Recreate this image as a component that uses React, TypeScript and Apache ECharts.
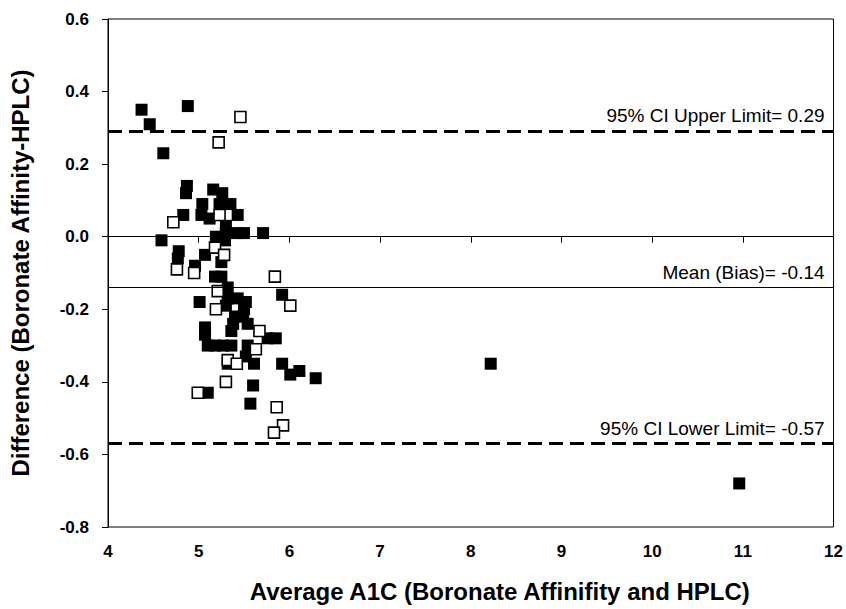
import React, { useEffect, useRef } from "react";
import * as echarts from "echarts";

const xTicks = { min: 4, max: 12, interval: 1 };
const yTicks = { min: -0.8, max: 0.6, interval: 0.2 };

// Filled squares: [average A1C, difference]
const filledPoints: [number, number][] = [
  [4.37, 0.35], [4.46, 0.31], [4.88, 0.36], [4.61, 0.23],
  [4.87, 0.14], [4.86, 0.12], [5.16, 0.13], [5.26, 0.12],
  [5.04, 0.09], [5.23, 0.09], [5.35, 0.09], [4.83, 0.06],
  [5.03, 0.06], [5.43, 0.06], [5.12, 0.05], [4.59, -0.01],
  [4.78, -0.04], [4.77, -0.06], [5.07, -0.05], [5.19, 0.0],
  [5.30, 0.03], [5.29, -0.01], [5.25, -0.07], [5.18, -0.11],
  [5.25, -0.11], [5.41, 0.01], [5.50, 0.01], [5.71, 0.01],
  [5.30, 0.01], [4.96, -0.08], [5.32, -0.14], [5.01, -0.18],
  [5.32, -0.17], [5.43, -0.17], [5.52, -0.18], [5.30, -0.19],
  [5.50, -0.20], [5.92, -0.16], [5.49, -0.22], [5.54, -0.24],
  [5.40, -0.22], [5.38, -0.24], [5.07, -0.25], [5.07, -0.27],
  [5.36, -0.26], [5.76, -0.28], [5.85, -0.28], [5.10, -0.30],
  [5.18, -0.30], [5.27, -0.30], [5.36, -0.30], [5.54, -0.30],
  [5.32, -0.35], [5.52, -0.33], [5.61, -0.35], [5.92, -0.35],
  [6.01, -0.38], [6.11, -0.37], [6.29, -0.39], [5.60, -0.41],
  [5.10, -0.43], [5.57, -0.46], [8.22, -0.35], [10.96, -0.68],
];

// Open squares
const openPoints: [number, number][] = [
  [5.46, 0.33], [5.22, 0.26], [4.72, 0.04], [5.23, 0.06],
  [5.18, -0.03], [5.28, -0.05], [4.76, -0.09], [4.95, -0.10],
  [5.84, -0.11], [5.21, -0.15], [5.19, -0.20], [6.01, -0.19],
  [5.67, -0.26], [5.63, -0.31], [5.32, -0.34], [5.42, -0.35],
  [5.30, -0.40], [4.99, -0.43], [5.86, -0.47], [5.93, -0.52],
  [5.83, -0.54],
];

const upperLimit = 0.29;
const meanBias = -0.14;
const lowerLimit = -0.57;

const refLines = [
  { value: upperLimit, label: "95% CI Upper Limit= 0.29", dashed: true },
  { value: meanBias, label: "Mean (Bias)= -0.14", dashed: false },
  { value: lowerLimit, label: "95% CI Lower Limit= -0.57", dashed: true },
];

const xName = "Average A1C (Boronate Affinifity and HPLC)";
const yName = "Difference (Boronate Affinity-HPLC)";

const FONT = "'Liberation Sans', Arial, sans-serif";

export default function App() {
  const ref = useRef<HTMLDivElement>(null);

  useEffect(() => {
    if (!ref.current) return;
    const chart = echarts.init(ref.current, null, { renderer: "svg" });
    chart.setOption({
      animation: false,
      backgroundColor: "#ffffff",
      textStyle: { fontFamily: FONT },
      grid: {
        left: 106,
        right: 11,
        top: 19,
        bottom: 82,
        show: true,
        borderColor: "#000",
        borderWidth: 1,
        backgroundColor: "transparent",
      },
      xAxis: {
        type: "value",
        min: xTicks.min,
        max: xTicks.max,
        interval: xTicks.interval,
        name: xName,
        nameLocation: "middle",
        nameGap: 52,
        nameTextStyle: {
          fontFamily: FONT,
          fontWeight: "bold",
          fontSize: 24,
          color: "#000",
          padding: [0, 0, 0, 58],
        },
        axisLine: { show: true, lineStyle: { color: "#000", width: 1 } },
        axisTick: { show: true, inside: false, length: 6, lineStyle: { color: "#000" } },
        axisLabel: { fontFamily: FONT, fontWeight: "bold", fontSize: 17, color: "#000", margin: 16 },
        splitLine: { show: false },
      },
      yAxis: {
        type: "value",
        min: yTicks.min,
        max: yTicks.max,
        interval: yTicks.interval,
        name: yName,
        nameLocation: "middle",
        nameGap: 76,
        nameRotate: 90,
        nameTextStyle: { fontFamily: FONT, fontWeight: "bold", fontSize: 24, color: "#000" },
        axisLine: { show: true, lineStyle: { color: "#000", width: 1 } },
        axisTick: { show: true, inside: false, length: 6, lineStyle: { color: "#000" } },
        axisLabel: {
          fontFamily: FONT,
          fontWeight: "bold",
          fontSize: 17,
          color: "#000",
          margin: 19,
          formatter: (v: number) => (Math.abs(v) < 1e-9 ? "0.0" : v.toFixed(1)),
        },
        splitLine: { show: false },
      },
      series: [
        {
          type: "scatter",
          name: "filled",
          symbol: "rect",
          symbolSize: 12,
          itemStyle: { color: "#000", borderColor: "#000", borderWidth: 0, opacity: 1 },
          data: filledPoints,
          z: 2,
          markLine: {
            silent: true,
            symbol: "none",
            animation: false,
            data: refLines.map((r) => ({
              yAxis: r.value,
              lineStyle: {
                color: "#000",
                width: r.dashed ? 3 : 1,
                type: r.dashed ? [14, 7] : "solid",
                opacity: 1,
              },
              label: {
                show: true,
                formatter: r.label,
                position: "insideEndTop",
                distance: [9, 6],
                fontFamily: FONT,
                fontSize: 19,
                color: "#000",
              },
            })),
          },
        },
        {
          type: "scatter",
          name: "open",
          symbol: "rect",
          symbolSize: 11,
          itemStyle: { color: "#fff", borderColor: "#000", borderWidth: 1.6, opacity: 1 },
          data: openPoints,
          z: 3,
        },
      ],
    });
    return () => chart.dispose();
  }, []);

  return (
    <div
      ref={ref}
      style={{ position: "fixed", left: 0, top: 0, width: 846, height: 609, background: "#fff" }}
    />
  );
}
